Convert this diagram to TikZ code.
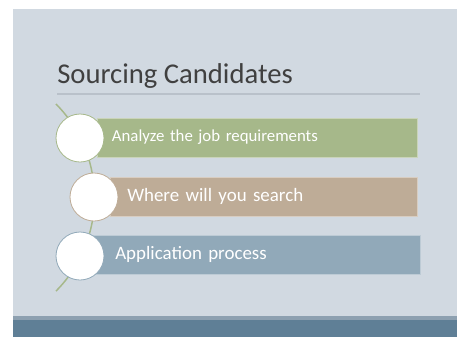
\documentclass[tikz,border=0pt]{standalone}
\usepackage{fontspec}
\setmainfont{Carlito}
\definecolor{slidebg}{HTML}{D1D9E1}
\definecolor{titlegray}{HTML}{404040}
\definecolor{rulegray}{HTML}{B9C1CA}
\definecolor{leafgreen}{HTML}{A6B88A}
\definecolor{sandtan}{HTML}{BEAC97}
\definecolor{steelblue}{HTML}{91A9B9}
\definecolor{bardark}{HTML}{5F7F96}
\definecolor{barlight}{HTML}{8DA0B0}

\begin{document}
\begin{tikzpicture}
  [x=0.75pt, y=-0.75pt,
   stepbox/.style={anchor=west, minimum height=29.25pt, inner ysep=0pt,
     align=left, text=white, font=\fontsize{14.2}{16}\selectfont},
   bullet/.style={circle, fill=white, draw, line width=0.6pt, minimum size=36pt, inner sep=0pt}]
  % slide
  \useasboundingbox (0,0) rectangle (457,337);
  \fill[white] (0,0) rectangle (457,337);
  \fill[slidebg] (13,9) rectangle (457,337);
  \fill[bardark] (13,317) rectangle (457,337);
  \fill[barlight] (13,316) rectangle (457,320);
  % title
  \node[anchor=base west, inner sep=0pt, text=titlegray, font=\fontsize{21.5}{24}\selectfont]
    (title) at (57,83) {Sourcing Candidates};
  \draw[rulegray, line width=1.2pt] (57,94) -- (420,94);
  % arc behind the circles
  \coordinate (arctop) at (56,104);
  \draw[leafgreen, line width=1.1pt] (arctop) arc[start angle=-44.7, end angle=44.7, radius=133];
  % boxes
  \node[stepbox, fill=leafgreen, draw=leafgreen!60!white, minimum width=240pt,
    text width=218pt, inner xsep=11pt, font=\fontsize{12.6}{14}\selectfont]
    (analyze) at (97,137.5) {Analyze the job requirements};
  \node[stepbox, fill=sandtan, draw=sandtan!60!white, minimum width=230.25pt,
    text width=204.75pt, inner xsep=12.75pt]
    (search) at (110,196.5) {Where will you search};
  \node[stepbox, fill=steelblue, draw=steelblue!60!white, minimum width=245.25pt,
    text width=212.25pt, inner xsep=16.5pt]
    (process) at (93,254.5) {Application process};
  % circles
  \node[bullet, draw=leafgreen] (c1) at (80,138) {};
  \node[bullet, draw=sandtan] (c2) at (94,197) {};
  \node[bullet, draw=steelblue] (c3) at (80,256) {};
\end{tikzpicture}
\end{document}
